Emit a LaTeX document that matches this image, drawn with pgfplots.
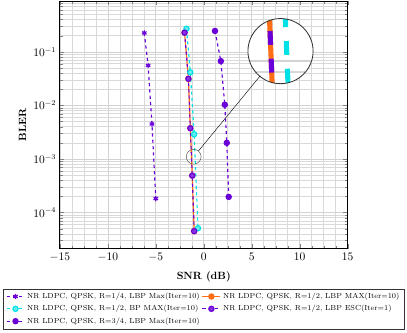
\documentclass[border={2.5pt 3.5pt 2pt 0.5pt}]{standalone}
\usepackage{pgfplots}
\pgfplotsset{compat=1.18}
\usetikzlibrary{spy}
\definecolor{cviolet}{RGB}{106,0,216}
\definecolor{ccyan}{RGB}{0,225,230}
\definecolor{corange}{RGB}{255,110,20}
\begin{document}
\begin{tikzpicture}[spy using outlines={circle, magnification=4.4, size=62pt, connect spies,
    every spy on node/.append style={draw=black!70, thin},
    every spy in node/.append style={draw=black!80, thick, fill=white}}]
\begin{axis}[
  scale only axis,
  width=274pt, height=236pt,
  ymode=log,
  xmin=-15, xmax=15,
  ymin=2.1e-5, ymax=0.89,
  xtick={-15,-10,...,15},
  minor x tick num=3,
  grid=both,
  major grid style={gray!35, line width=0.6pt},
  minor grid style={gray!30, line width=0.5pt},
  axis line style={black, line width=0.8pt},
  tick label style={font=\fontsize{10.5}{12}\selectfont},
  xlabel={\textbf{SNR (dB)}},
  ylabel={\textbf{BLER}},
  xlabel style={yshift=-3pt},
  legend columns=2,
  legend cell align=left,
  legend style={at={(0.5,-0.16)}, anchor=north, font=\scriptsize,
    draw=black!80, row sep=1pt,
    /tikz/every even column/.append style={column sep=0pt}},
  every axis plot/.append style={line width=1.1pt},
]
\addplot[cviolet, dashed, mark=asterisk, mark size=2.5pt, mark options={solid}]
  coordinates {(-6.2,0.225) (-5.8,0.0557) (-5.4,4.5e-3) (-5.0,1.82e-4)};
\addlegendentry{NR LDPC, QPSK, R=1/4, LBP Max(Iter=10)}
\addplot[corange, mark=*, mark size=2.5pt]
  coordinates {(-2.0,0.228) (-1.6,0.0314) (-1.4,3.75e-3) (-1.2,4.9e-4) (-1.0,4.5e-5)};
\addlegendentry{NR LDPC, QPSK, R=1/2, LBP MAX(Iter=10)}
\addplot[ccyan, dashed, mark=*, mark size=2.5pt, mark options={solid, fill=ccyan!60, draw=ccyan}]
  coordinates {(-1.8,0.27) (-1.4,0.0415) (-1.0,2.9e-3) (-0.6,5.1e-5)};
\addlegendentry{NR LDPC, QPSK, R=1/2, BP MAX(Iter=10)}
\addplot[cviolet, dashed, mark=*, mark size=2.5pt, mark options={solid, fill=cviolet!80, draw=cviolet}]
  coordinates {(-2.0,0.228) (-1.6,0.0314) (-1.4,3.75e-3) (-1.2,4.9e-4) (-1.0,4.5e-5)};
\addlegendentry{NR LDPC, QPSK, R=1/2, LBP ESC(Iter=1)}
\addplot[cviolet, dashed, mark=*, mark size=2.5pt, mark options={solid}]
  coordinates {(1.17,0.245) (1.78,0.067) (2.19,0.0103) (2.4,2.0e-3) (2.6,1.96e-4)};
\addlegendentry{NR LDPC, QPSK, R=3/4, LBP Max(Iter=10)}
\coordinate (spypoint) at (axis cs:-1.05,1.1e-3);
\coordinate (glass) at (axis cs:8.0,0.103);
\end{axis}
\spy on (spypoint) in node at (glass);
\end{tikzpicture}
\end{document}
